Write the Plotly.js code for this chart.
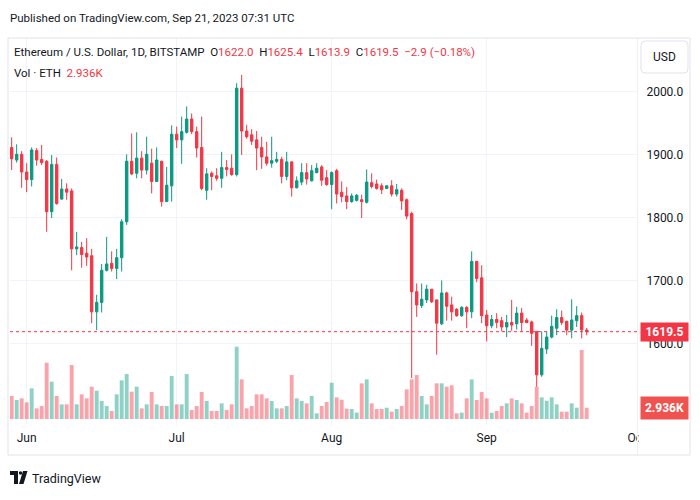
<!DOCTYPE html>
<html>
<head>
<meta charset="utf-8">
<script src="https://cdn.plot.ly/plotly-3.0.1.min.js"></script>
<style>
html,body{margin:0;padding:0;background:#fff;}
#chart{width:700px;height:500px;}
</style>
</head>
<body>
<div id="chart"></div>
<script>
// ---- Data (ETH/USD daily, Bitstamp, 2023-05-29 .. 2023-09-21) ----
const startDate = '2023-05-29';
const openP = [1912,1892,1901,1873,1861,1907,1893,1890,1810,1885,1830,1846,1843,1751,1753,1744,1740,1651,1666,1717,
1728,1720,1737,1794,1890,1871,1895,1876,1887,1858,1890,1826,1851,1933,1924,1936,1957,1937,1912,1844,
1871,1867,1863,1880,1879,1869,2006,1938,1932,1924,1912,1897,1887,1890,1893,1866,1889,1848,1857,1872,
1859,1872,1881,1864,1853,1875,1841,1835,1826,1828,1829,1825,1856,1854,1851,1847,1851,1838,1844,1829,
1807,1683,1661,1670,1687,1670,1632,1681,1662,1655,1645,1658,1651,1731,1705,1646,1629,1639,1637,1627,
1634,1632,1649,1638,1635,1620,1551,1592,1611,1625,1642,1636,1622,1637,1645,1622.0];
const highP = [1928,1917,1906,1887,1912,1911,1916,1892,1900,1896,1862,1855,1847,1778,1762,1768,1751,1678,1727,1770,
1747,1751,1798,1901,1934,1936,1906,1929,1910,1912,1891,1881,1947,1945,1961,1977,1966,1945,1961,1879,
1874,1879,1905,1892,1901,2014,2027,1948,1941,1938,1929,1921,1929,1905,1897,1905,1890,1866,1887,1887,
1884,1887,1884,1876,1874,1878,1858,1849,1839,1838,1837,1877,1871,1861,1855,1852,1860,1854,1847,1831,
1810,1696,1696,1694,1687,1670,1701,1683,1675,1657,1660,1660,1747,1732,1725,1654,1646,1649,1643,1646,
1670,1659,1657,1641,1637,1620,1620,1620,1645,1655,1653,1637,1671,1660,1650,1625.4];
const lowP = [1876,1888,1848,1841,1850,1883,1884,1778,1800,1821,1829,1829,1717,1741,1721,1724,1633,1622,1650,1715,
1715,1703,1715,1789,1868,1863,1863,1869,1839,1858,1818,1826,1826,1911,1886,1934,1933,1896,1844,1829,
1844,1859,1848,1866,1867,1866,1900,1926,1916,1876,1878,1883,1880,1887,1855,1860,1834,1847,1852,1853,
1858,1871,1851,1851,1814,1823,1825,1814,1824,1826,1800,1823,1847,1845,1838,1846,1834,1834,1813,1798,
1546,1643,1657,1665,1665,1583,1630,1637,1637,1643,1643,1625,1641,1698,1633,1604,1625,1625,1620,1611,
1621,1623,1620,1633,1597,1532,1548,1584,1609,1614,1630,1614,1609,1627,1609,1613.9];
const closeP = [1894,1901,1873,1861,1908,1892,1888,1810,1885,1823,1846,1841,1751,1754,1742,1738,1651,1666,1717,1727,
1720,1737,1794,1890,1870,1895,1876,1901,1858,1892,1826,1852,1933,1924,1937,1957,1937,1911,1847,1870,
1866,1863,1880,1877,1869,2006,1938,1929,1922,1911,1897,1887,1891,1893,1866,1889,1848,1859,1872,1862,
1875,1879,1860,1853,1872,1838,1834,1826,1835,1836,1826,1857,1850,1847,1845,1851,1838,1845,1827,1803,
1683,1662,1671,1687,1667,1633,1681,1660,1651,1645,1658,1651,1731,1704,1645,1629,1639,1634,1627,1634,
1630,1649,1634,1634,1617,1551,1593,1611,1628,1642,1634,1622,1638,1645,1622.4,1619.5];
const volume = [5980,4940,5370,4330,7970,2770,3380,14630,9700,5980,3810,3810,14030,3810,6410,5370,8400,7360,4680,3380,
2080,6410,10050,11690,7100,8400,2770,3810,7010,3810,3380,3380,11170,3810,3810,11690,2340,3380,7010,4680,
2080,2080,4070,2340,3810,18790,10310,2770,3380,6410,6410,5370,4680,2770,2770,3380,11430,5370,4680,4070,
5980,1470,3380,4420,9440,5630,5000,2700,2600,1650,9270,10310,4070,2600,2600,2940,1910,2600,3380,7710,
10310,11430,5980,3810,5980,9270,9270,8400,8750,1470,1650,5370,10310,4940,7010,5370,1650,2080,3380,4070,
5370,4940,4070,1650,3380,8400,5630,4760,5630,3810,1910,1910,4070,2940,17930,2936];
const monthTicks = ['2023-06-01','2023-07-01','2023-08-01','2023-09-01','2023-10-01'];
const monthLabels = ['Jun','Jul','Aug','Sep','Oct'];
const priceTicks = [1600,1700,1800,1900,2000];

// dates (one per candle)
const dates = openP.map((_, i) => {
  const d = new Date(startDate + 'T00:00:00Z');
  d.setUTCDate(d.getUTCDate() + i);
  return d.toISOString().slice(0, 10);
});

const UP = '#089981', DOWN = '#f23645';
const UPV = 'rgba(8,153,129,0.45)', DOWNV = 'rgba(242,54,69,0.45)';
const volColors = closeP.map((c, i) => c >= openP[i] ? UPV : DOWNV);

const n = closeP.length;
const lastO = openP[n-1], lastH = highP[n-1], lastL = lowP[n-1], lastC = closeP[n-1];
const chg = lastC - closeP[n-2];
const chgPct = chg / closeP[n-2] * 100;
const sign = v => (v < 0 ? '\u2212' : '+');
const lastVolTxt = (volume[n-1] / 1000).toFixed(3) + 'K';

// pixel -> paper helpers
const PL = 10, PR = 637, PT = 38, PB = 425;
const px = x => (x - PL) / (PR - PL);
const py = y => (PB - y) / (PB - PT);

const FONT = 'Roboto, "Liberation Sans", sans-serif';
const TXT = '#131722';
const RED = '#f23645';

const traces = [
  {
    type: 'bar', x: dates, y: volume, yaxis: 'y',
    marker: {color: volColors, line: {width: 0}},
    width: 0.78 * 86400000, hoverinfo: 'skip', showlegend: false
  },
  {
    type: 'candlestick', x: dates, open: openP, high: highP, low: lowP, close: closeP,
    yaxis: 'y2',
    increasing: {line: {color: UP, width: 1}, fillcolor: UP},
    decreasing: {line: {color: DOWN, width: 1}, fillcolor: DOWN},
    whiskerwidth: 0, showlegend: false, hoverinfo: 'skip'
  }
];

const rr = (x0, y0, x1, y1, r) => {
  const X = v => px(v), Y = v => py(v);
  return `M${X(x0+r)},${Y(y0)} L${X(x1-r)},${Y(y0)} Q${X(x1)},${Y(y0)} ${X(x1)},${Y(y0+r)} ` +
         `L${X(x1)},${Y(y1-r)} Q${X(x1)},${Y(y1)} ${X(x1-r)},${Y(y1)} L${X(x0+r)},${Y(y1)} ` +
         `Q${X(x0)},${Y(y1)} ${X(x0)},${Y(y1-r)} L${X(x0)},${Y(y0+r)} Q${X(x0)},${Y(y0)} ${X(x0+r)},${Y(y0)} Z`;
};
const poly = pts => 'M' + pts.map(p => px(p[0]) + ',' + py(p[1])).join(' L') + ' Z';

const shapes = [
  // dotted last-price line
  {type: 'line', xref: 'paper', yref: 'y2', x0: 0, x1: 1, y0: lastC, y1: lastC,
   line: {color: RED, width: 1, dash: 'dot'}, layer: 'above'},
  // cover for clipped "Oct" label
  {type: 'rect', xref: 'paper', yref: 'paper', x0: px(638.5), x1: px(689.5), y0: py(454), y1: py(426),
   fillcolor: '#ffffff', line: {width: 0}, layer: 'above'},
  // price-scale separator
  {type: 'line', xref: 'paper', yref: 'paper', x0: px(637.5), x1: px(637.5), y0: py(455), y1: py(38),
   line: {color: '#eef0f4', width: 1}, layer: 'above'},
  // panel frame
  {type: 'rect', xref: 'paper', yref: 'paper', x0: px(8), x1: px(690), y0: py(455), y1: py(38),
   line: {color: '#e0e3eb', width: 1}, fillcolor: 'rgba(0,0,0,0)', layer: 'above'},
  // USD button
  {type: 'path', xref: 'paper', yref: 'paper', path: rr(641, 41, 688, 73, 4),
   line: {color: '#e0e3eb', width: 1}, fillcolor: '#ffffff', layer: 'above'},
  // TradingView logo
  {type: 'path', xref: 'paper', yref: 'paper', path: poly([[10,471],[18,471],[18,484],[14,484],[14,475],[10,475]]),
   line: {width: 0}, fillcolor: TXT, layer: 'above'},
  {type: 'circle', xref: 'paper', yref: 'paper', x0: px(18.8), x1: px(22.2), y0: py(474.7), y1: py(471.3),
   line: {width: 0}, fillcolor: TXT, layer: 'above'},
  {type: 'path', xref: 'paper', yref: 'paper', path: poly([[23,471],[27.5,471],[23.5,484],[19,484]]),
   line: {width: 0}, fillcolor: TXT, layer: 'above'}
];

const sp = (c, t) => `<span style="color:${c}">${t}</span>`;
const chgTxt = sign(chg) + Math.abs(chg).toFixed(1) + ' (' + sign(chgPct) + Math.abs(chgPct).toFixed(2) + '%)';
const headerText =
  'Ethereum / U.S. Dollar, 1D, BITSTAMP&nbsp;&nbsp;' +
  'O' + sp(RED, lastO.toFixed(1)) + '&nbsp;&nbsp;' +
  'H' + sp(RED, lastH.toFixed(1)) + '&nbsp;&nbsp;' +
  'L' + sp(RED, lastL.toFixed(1)) + '&nbsp;&nbsp;' +
  'C' + sp(RED, lastC.toFixed(1)) + '&nbsp;&nbsp;' + sp(RED, chgTxt);

const HS = 11.5;
const annotations = [
  {xref: 'paper', yref: 'paper', x: px(8), y: py(18), xanchor: 'left', yanchor: 'middle', showarrow: false,
   text: 'Published on TradingView.com, Sep 21, 2023 07:31 UTC', font: {family: FONT, size: HS, color: TXT}},
  {xref: 'paper', yref: 'paper', x: px(12), y: py(52), xanchor: 'left', yanchor: 'middle', showarrow: false,
   text: headerText, font: {family: FONT, size: HS, color: TXT}},
  {xref: 'paper', yref: 'paper', x: px(12), y: py(73), xanchor: 'left', yanchor: 'middle', showarrow: false,
   text: 'Vol \u00b7 ETH&nbsp;&nbsp;' + sp(RED, lastVolTxt), font: {family: FONT, size: HS, color: TXT}},
  {xref: 'paper', yref: 'paper', x: px(664.5), y: py(57), xanchor: 'center', yanchor: 'middle', showarrow: false,
   text: 'USD', font: {family: FONT, size: 12, color: TXT}},
  {xref: 'paper', yref: 'y2', x: px(640), y: lastC, xanchor: 'left', yanchor: 'middle', showarrow: false,
   text: '<b>' + lastC.toFixed(1) + '</b>', bgcolor: RED, width: 43, height: 14, borderpad: 2,
   font: {family: FONT, size: 12, color: '#ffffff'}},
  {xref: 'paper', yref: 'y', x: px(640), y: volume[n-1], xanchor: 'left', yanchor: 'middle', showarrow: false,
   text: '<b>' + lastVolTxt + '</b>', bgcolor: '#ef5350', width: 43, height: 18, borderpad: 2,
   font: {family: FONT, size: 12, color: '#ffffff'}},
  {xref: 'paper', yref: 'paper', x: px(30), y: py(478), xanchor: 'left', yanchor: 'middle', showarrow: false,
   text: 'TradingView', font: {family: FONT, size: 12.5, color: TXT}}
];

const layout = {
  width: 700, height: 500,
  margin: {l: PL, r: 700 - PR, t: PT, b: 500 - PB, pad: 0},
  paper_bgcolor: '#ffffff', plot_bgcolor: '#ffffff',
  showlegend: false, dragmode: false,
  font: {family: FONT, size: 12, color: TXT},
  xaxis: {
    type: 'date', range: ['2023-05-28 16:00', '2023-10-01 01:30'],
    tickvals: monthTicks, ticktext: monthLabels,
    showgrid: true, gridcolor: '#f0f3fa', gridwidth: 1,
    zeroline: false, showline: false,
    ticks: 'outside', ticklen: 2, tickcolor: 'rgba(0,0,0,0)',
    tickfont: {family: FONT, size: 12, color: TXT},
    rangeslider: {visible: false}, fixedrange: true
  },
  yaxis: {
    range: [-1560, 99060], showgrid: false, zeroline: false, showticklabels: false,
    showline: false, fixedrange: true
  },
  yaxis2: {
    overlaying: 'y', side: 'right', range: [1471.4, 2085.7],
    tickvals: priceTicks, tickformat: '.1f',
    showgrid: true, gridcolor: '#f0f3fa', gridwidth: 1,
    zeroline: false, showline: false,
    ticks: 'outside', ticklen: 6, tickcolor: 'rgba(0,0,0,0)',
    tickfont: {family: FONT, size: 12, color: TXT}, fixedrange: true
  },
  shapes: shapes,
  annotations: annotations
};

Plotly.newPlot('chart', traces, layout, {displayModeBar: false, staticPlot: true});
</script>
</body>
</html>
